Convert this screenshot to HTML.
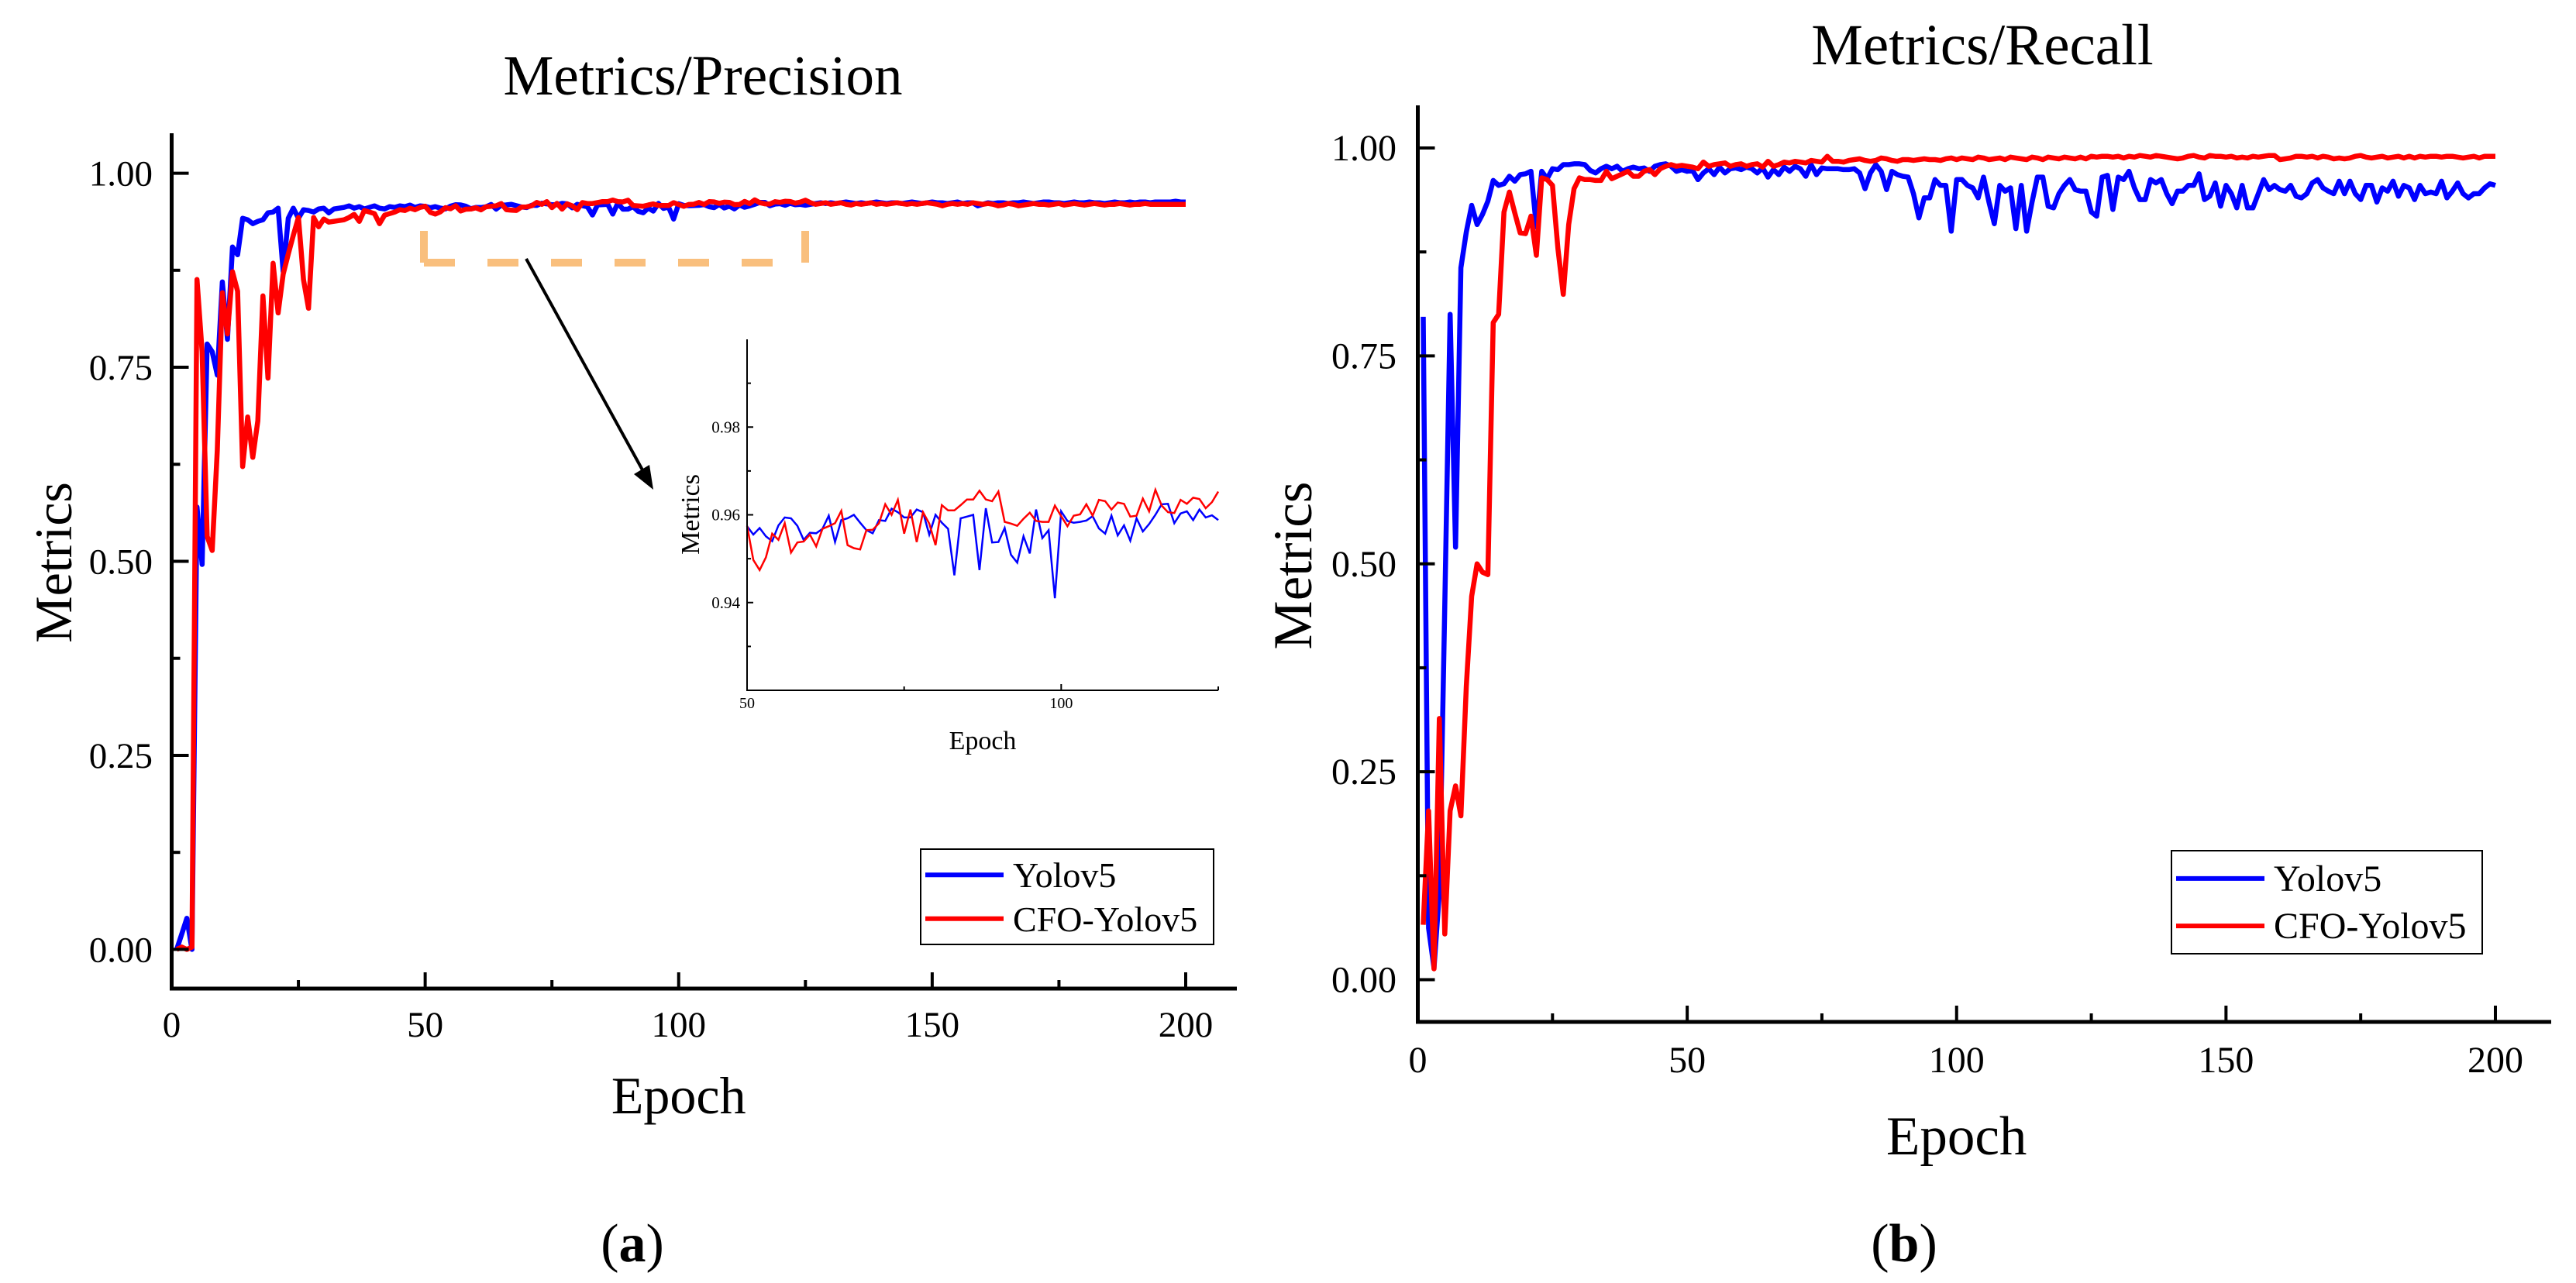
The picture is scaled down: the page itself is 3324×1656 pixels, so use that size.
<!DOCTYPE html>
<html><head><meta charset="utf-8">
<style>
html,body{margin:0;padding:0;background:#fff;}
svg{display:block;font-family:"Liberation Serif",serif;}
</style></head>
<body>
<svg id="fig" width="3324" height="1656" viewBox="0 0 3324 1656" xmlns="http://www.w3.org/2000/svg">
<rect x="0" y="0" width="3324" height="1656" fill="#fff"/>
<g id="chartA"></g>
<g id="chartB"></g>
<g id="inset"></g>
</svg>
<script>
// ---- data ----
const precisionYolo = [0,0.02,0.04,0,0.57,0.496,0.78,0.77,0.74,0.86,0.786,0.905,0.895,0.942,0.94,0.935,0.938,0.94,0.949,0.95,0.955,0.873,0.942,0.955,0.942,0.953,0.952,0.95,0.954,0.955,0.949,
0.954,0.955,0.956,0.958,0.955,0.957,0.954,0.956,0.958,0.955,0.954,0.957,0.956,0.958,0.957,0.959,0.956,0.958,
0.9574,0.9555,0.957,0.9551,0.954,0.9576,0.9594,0.9592,0.9575,0.9543,0.9559,0.9558,0.9568,0.9598,0.9538,0.9588,0.9592,0.96,0.9582,0.9565,0.9558,0.9588,0.9586,0.9614,0.9606,0.9594,0.9594,0.9612,0.9606,0.9555,0.96,0.9582,0.9568,0.9462,0.9592,0.9596,0.96,0.9474,0.9615,0.9537,0.9538,0.957,0.9509,0.9491,0.9551,0.9512,0.9612,0.9547,0.9565,0.941,0.9608,0.9586,0.9582,0.9584,0.9587,0.9597,0.9569,0.9557,0.9598,0.9553,0.9576,0.9541,0.9592,0.9562,0.9579,0.96,0.9624,0.9625,0.9581,0.9603,0.9608,0.9588,0.9612,0.9594,0.9599,0.9588,
0.96,0.961,0.962,0.961,0.962,0.961,0.962,0.963,0.962,0.961,0.962,0.961,0.962,0.963,0.962,0.961,0.962,0.962,0.961,0.962,0.963,0.962,0.961,0.962,0.963,0.962,0.962,0.961,0.962,0.963,0.961,0.962,0.962,0.958,0.96,0.962,0.961,0.962,0.962,0.961,0.962,0.962,0.963,0.962,0.961,0.962,0.963,0.963,0.962,0.962,0.961,0.962,0.963,0.962,0.962,0.963,0.962,0.962,0.961,0.962,0.963,0.962,0.962,0.963,0.962,0.963,0.963,0.962,0.963,0.963,0.963,0.963,0.964,0.963,0.963];
const precisionCFO = [0,0.003,0,0.003,0.863,0.77,0.532,0.514,0.643,0.846,0.793,0.873,0.848,0.622,0.686,0.634,0.681,0.842,0.736,0.884,0.82,0.87,0.896,0.92,0.943,0.863,0.826,0.943,0.931,0.941,0.937,
0.938,0.939,0.94,0.943,0.947,0.938,0.952,0.95,0.948,0.935,0.946,0.948,0.95,0.953,0.952,0.955,0.953,0.956,
0.9575,0.9497,0.9474,0.9503,0.9557,0.9543,0.9581,0.9514,0.9537,0.9539,0.9555,0.9528,0.9568,0.9574,0.9581,0.9609,0.9531,0.9524,0.9521,0.9565,0.9566,0.9581,0.9624,0.96,0.9634,0.9557,0.9612,0.9538,0.9606,0.958,0.9531,0.9622,0.961,0.961,0.9622,0.9635,0.9635,0.9655,0.9635,0.9631,0.9653,0.9584,0.958,0.9575,0.9591,0.9605,0.9586,0.9584,0.9584,0.9621,0.9597,0.9574,0.9598,0.9601,0.9624,0.9598,0.9634,0.9631,0.9612,0.9628,0.9625,0.9596,0.9598,0.9637,0.9608,0.9657,0.9621,0.9606,0.9604,0.9634,0.9625,0.9639,0.9636,0.9615,0.9629,0.9653,
0.962,0.96,0.961,0.962,0.96,0.961,0.962,0.96,0.959,0.961,0.96,0.961,0.962,0.96,0.961,0.96,0.961,0.962,0.961,0.96,0.961,0.96,0.961,0.962,0.961,0.96,0.958,0.96,0.961,0.96,0.961,0.96,0.962,0.961,0.96,0.961,0.96,0.958,0.959,0.961,0.96,0.958,0.959,0.96,0.961,0.96,0.96,0.959,0.96,0.961,0.959,0.96,0.961,0.96,0.959,0.96,0.961,0.96,0.959,0.96,0.96,0.961,0.96,0.959,0.96,0.96,0.961,0.96,0.96,0.96,0.96,0.96,0.96,0.96,0.96];
const recallYolo = [0.797,0.062,0.014,0.105,0.45,0.80,0.52,0.856,0.899,0.931,
0.908,0.92,0.936,0.961,0.955,0.957,0.966,0.96,0.968,0.969,
0.972,0.905,0.972,0.963,0.975,0.974,0.98,0.98,0.981,0.981,
0.98,0.973,0.97,0.975,0.978,0.975,0.978,0.972,0.975,0.977,
0.975,0.976,0.972,0.978,0.98,0.981,0.978,0.972,0.974,0.972,
0.973,0.962,0.97,0.975,0.968,0.977,0.97,0.975,0.976,0.974,
0.977,0.975,0.97,0.976,0.965,0.974,0.968,0.977,0.972,0.978,
0.975,0.966,0.98,0.968,0.976,0.975,0.975,0.975,0.974,0.974,
0.975,0.97,0.951,0.97,0.98,0.972,0.95,0.972,0.968,0.966,
0.965,0.945,0.916,0.94,0.94,0.962,0.955,0.955,0.90,0.962,
0.962,0.955,0.952,0.94,0.965,0.935,0.909,0.955,0.948,0.952,
0.903,0.955,0.90,0.935,0.965,0.965,0.93,0.928,0.945,0.955,
0.962,0.95,0.948,0.948,0.923,0.918,0.965,0.967,0.926,0.965,
0.962,0.972,0.952,0.938,0.938,0.962,0.958,0.962,0.945,0.933,
0.948,0.948,0.955,0.955,0.969,0.938,0.942,0.958,0.93,0.955,
0.945,0.928,0.955,0.928,0.928,0.945,0.962,0.95,0.955,0.95,
0.948,0.955,0.942,0.94,0.945,0.958,0.962,0.952,0.948,0.945,
0.96,0.945,0.96,0.945,0.938,0.955,0.955,0.935,0.952,0.948,
0.96,0.942,0.955,0.952,0.938,0.955,0.945,0.947,0.945,0.96,
0.94,0.948,0.958,0.945,0.94,0.945,0.945,0.952,0.957,0.955];
const recallCFO = [0.066,0.203,0.013,0.314,0.055,0.203,0.233,0.197,0.353,0.461,
0.50,0.49,0.487,0.79,0.80,0.923,0.947,0.922,0.898,0.897,
0.918,0.871,0.964,0.962,0.955,0.879,0.824,0.908,0.951,0.964,
0.962,0.962,0.961,0.961,0.972,0.963,0.966,0.969,0.972,0.966,
0.966,0.972,0.974,0.968,0.975,0.978,0.98,0.978,0.979,0.978,
0.977,0.975,0.983,0.978,0.98,0.981,0.982,0.978,0.98,0.981,
0.978,0.98,0.981,0.977,0.984,0.978,0.98,0.983,0.982,0.984,
0.983,0.982,0.985,0.984,0.983,0.99,0.984,0.984,0.983,0.985,
0.986,0.987,0.985,0.984,0.985,0.988,0.987,0.985,0.984,0.986,
0.986,0.985,0.986,0.987,0.986,0.986,0.985,0.987,0.988,0.986,
0.988,0.987,0.986,0.989,0.988,0.986,0.987,0.988,0.986,0.989,
0.988,0.987,0.986,0.989,0.988,0.986,0.989,0.988,0.987,0.989,
0.988,0.987,0.989,0.987,0.99,0.989,0.99,0.99,0.989,0.99,
0.988,0.99,0.989,0.991,0.99,0.989,0.991,0.99,0.989,0.988,
0.987,0.988,0.99,0.991,0.989,0.988,0.991,0.99,0.99,0.989,
0.99,0.988,0.989,0.988,0.99,0.989,0.99,0.991,0.991,0.986,
0.987,0.988,0.99,0.99,0.989,0.99,0.988,0.99,0.989,0.987,
0.988,0.987,0.988,0.99,0.991,0.989,0.988,0.989,0.99,0.988,
0.989,0.99,0.988,0.99,0.988,0.99,0.989,0.99,0.99,0.989,
0.99,0.99,0.989,0.988,0.989,0.99,0.988,0.99,0.99,0.99];
const xTicks = [0,50,100,150,200];
const yTicks = [0,0.25,0.5,0.75,1.0];
const yTickLabels = ["0.00","0.25","0.50","0.75","1.00"];
const insetXTicks = [50,100];
const insetYTicks = [0.94,0.96,0.98];
const insetYTickLabels = ["0.94","0.96","0.98"];
const seriesNames = ["Yolov5","CFO-Yolov5"];

const NS="http://www.w3.org/2000/svg";
function mk(parent,tag,attrs,text){const e=document.createElementNS(NS,tag);for(const k in attrs)e.setAttribute(k,attrs[k]);if(text!==undefined)e.textContent=text;parent.appendChild(e);return e;}

function drawChart(g,cfg){
  const sx=v=>cfg.x0+(v-0)/(200)*(cfg.x200-cfg.x0);
  const sy=v=>cfg.y0-v*(cfg.y0-cfg.y1);
  const cols=["#0000ff","#ff0000"];
  [cfg.s1,cfg.s2].forEach((arr,si)=>{
    const d=arr.map((v,i)=>(i?"L":"M")+sx(i+1).toFixed(1)+","+sy(v).toFixed(1)).join("");
    const p=mk(g,"path",{d:d,fill:"none",stroke:cols[si],"stroke-width":6.5,"stroke-linejoin":"round"});
    
    
  });
  const ax=mk(g,"path",{d:`M${cfg.x0},${cfg.top}V${cfg.axY}H${cfg.right}`,fill:"none",stroke:"#000","stroke-width":5});
  
  
  xTicks.forEach((t,i)=>{
    const x=sx(t);
    mk(g,"line",{x1:x,x2:x,y1:cfg.axY,y2:cfg.axY-21,stroke:"#000","stroke-width":4});
    if(i<xTicks.length-1) mk(g,"line",{x1:sx(t+25),x2:sx(t+25),y1:cfg.axY,y2:cfg.axY-11,stroke:"#000","stroke-width":4});
    const tl=mk(g,"text",{x:x,y:cfg.xLabY,"font-size":cfg.tick,"text-anchor":"middle"},String(t));
    
    
  });
  yTicks.forEach((t,i)=>{
    const y=sy(t);
    mk(g,"line",{x1:cfg.x0,x2:cfg.x0+22,y1:y,y2:y,stroke:"#000","stroke-width":4});
    if(i<yTicks.length-1) mk(g,"line",{x1:cfg.x0,x2:cfg.x0+11,y1:sy(t+0.125),y2:sy(t+0.125),stroke:"#000","stroke-width":4});
    const tl=mk(g,"text",{x:cfg.yLabX,y:y+16,"font-size":cfg.tick,"text-anchor":"end"},yTickLabels[i]);
    
    
  });
  const t=mk(g,"text",{x:cfg.titleX,y:cfg.titleY,"font-size":cfg.titleSize,"text-anchor":"middle"},cfg.title);
  
  
  const xt=mk(g,"text",{x:(cfg.x0+cfg.x200)/2,y:cfg.xTitleY,"font-size":cfg.axTitle,"text-anchor":"middle"},"Epoch");
  
  
  const yt=mk(g,"text",{x:0,y:0,"font-size":cfg.axTitle,"text-anchor":"middle",transform:`translate(${cfg.yTitleX},${cfg.yTitleY}) rotate(-90)`},"Metrics");
  
  
  const L=cfg.leg;
  const lg=mk(g,"g",{});
  
  
  mk(lg,"rect",{x:L.x,y:L.y,width:L.w,height:L.h,fill:"#fff",stroke:"#000","stroke-width":2});
  seriesNames.forEach((n,i)=>{
    const yy=L.y+L.h*(i===0?0.27:0.73);
    mk(lg,"line",{x1:L.x+6,x2:L.x+L.lw,y1:yy,y2:yy,stroke:cols[i],"stroke-width":6});
    const e=mk(lg,"text",{x:L.x+L.lw+12,y:yy+16,"font-size":L.fs},n);
    
    
  });
  const lab=mk(g,"text",{x:cfg.labX,y:1628,"font-size":70,"text-anchor":"middle"});
  
  
  mk(lab,"tspan",{},"(");mk(lab,"tspan",{"font-weight":"bold"},cfg.lab);mk(lab,"tspan",{},")");
}

drawChart(document.getElementById("chartA"),{x0:221.5,x200:1530,y0:1225.4,y1:223.6,top:172,axY:1276,right:1596,
  s1:precisionYolo,s2:precisionCFO,tick:47,xLabY:1338,yLabX:197,title:"Metrics/Precision",titleX:907,titleY:122,titleSize:73,
  axTitle:68,xTitleY:1437,yTitleX:92,yTitleY:726,leg:{x:1188,y:1096,w:378,h:123,lw:107,fs:46},labX:816,lab:"a"});
drawChart(document.getElementById("chartB"),{x0:1829.5,x200:3220,y0:1264.5,y1:191,top:136,axY:1319,right:3292,
  s1:recallYolo,s2:recallCFO,tick:48,xLabY:1384,yLabX:1802,title:"Metrics/Recall",titleX:2558,titleY:83,titleSize:75,
  axTitle:71,xTitleY:1490,yTitleX:1692,yTitleY:730,leg:{x:2802,y:1098,w:401,h:133,lw:120,fs:48},labX:2457,lab:"b"});

(function(){
  const g=document.getElementById("chartA");
  const bg=mk(g,"g",{});
  
  
  mk(bg,"line",{x1:547,y1:298,x2:547,y2:339,stroke:"#f9bf7d","stroke-width":10});
  mk(bg,"line",{x1:1039,y1:298,x2:1039,y2:339,stroke:"#f9bf7d","stroke-width":10});
  mk(bg,"line",{x1:547,y1:339,x2:1039,y2:339,stroke:"#f9bf7d","stroke-width":10,"stroke-dasharray":"40,42"});
  const a=mk(g,"line",{x1:679,y1:334,x2:832,y2:612,stroke:"#000","stroke-width":4});
  
  
  mk(g,"polygon",{points:"843,632 818,612 838,600",fill:"#000"});
})();

(function(){
  const g=document.getElementById("inset");
  const X0=964,X1=1572,Y0=891,Y1=438;
  const sx=e=>X0+(e-50)/75*(X1-X0);
  const sy=v=>Y0-(v-0.92)/0.08*(Y0-Y1);
  const cols=["#0000ff","#ff0000"];
  [precisionYolo,precisionCFO].forEach((arr,si)=>{
    let d="";
    arr.forEach((v,i)=>{const e=i+1;if(e<50||e>125)return;d+=(d?"L":"M")+sx(e).toFixed(1)+","+sy(v).toFixed(1);});
    const p=mk(g,"path",{d:d,fill:"none",stroke:cols[si],"stroke-width":2.5});
    
    
  });
  mk(g,"path",{d:`M${X0},${Y1}V${Y0}H${X1}`,fill:"none",stroke:"#000","stroke-width":2});
  insetXTicks.forEach(t=>{
    mk(g,"line",{x1:sx(t),x2:sx(t),y1:Y0,y2:Y0-8,stroke:"#000","stroke-width":2});
    const tl=mk(g,"text",{x:sx(t),y:914,"font-size":20,"text-anchor":"middle"},String(t));
    
    
  });
  [75,125].forEach(t=>mk(g,"line",{x1:sx(t),x2:sx(t),y1:Y0,y2:Y0-5,stroke:"#000","stroke-width":2}));
  insetYTicks.forEach((t,i)=>{
    mk(g,"line",{x1:X0,x2:X0+8,y1:sy(t),y2:sy(t),stroke:"#000","stroke-width":2});
    const tl=mk(g,"text",{x:955,y:sy(t)+7,"font-size":21,"text-anchor":"end"},insetYTickLabels[i]);
    
    
  });
  [0.93,0.95,0.97,0.99].forEach(t=>mk(g,"line",{x1:X0,x2:X0+5,y1:sy(t),y2:sy(t),stroke:"#000","stroke-width":2}));
  const xt=mk(g,"text",{x:1268,y:967,"font-size":34,"text-anchor":"middle"},"Epoch");
  
  
  const yt=mk(g,"text",{x:0,y:0,"font-size":34,"text-anchor":"middle",transform:"translate(902,664) rotate(-90)"},"Metrics");
  
  
})();
</script>
</body></html>
